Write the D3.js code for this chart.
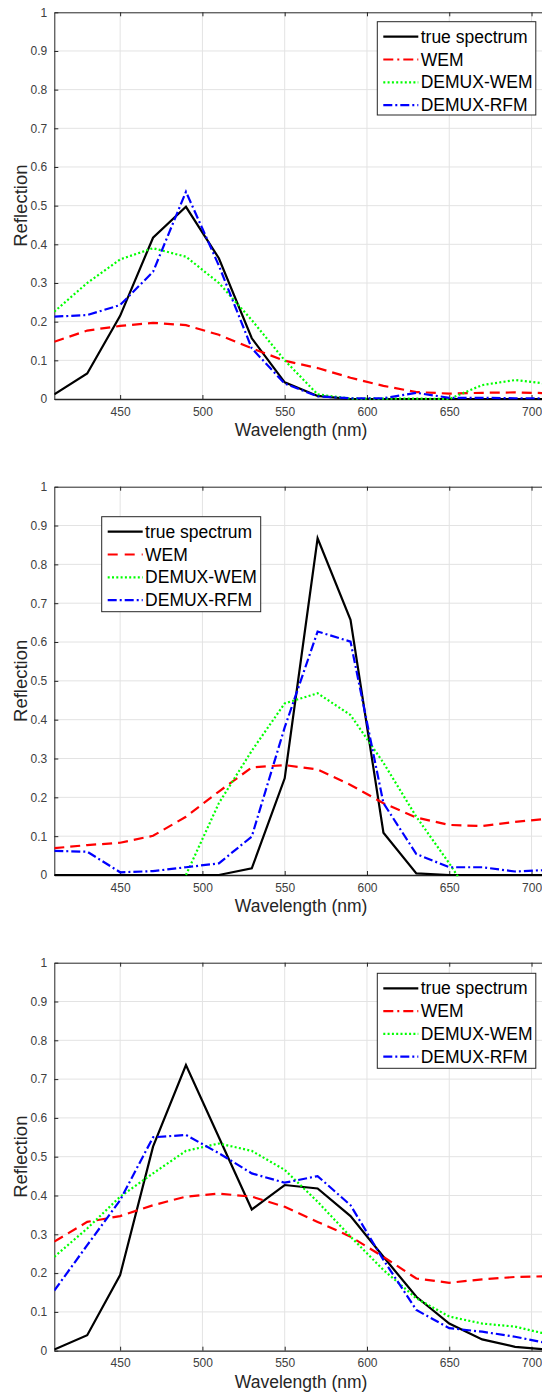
<!DOCTYPE html>
<html>
<head>
<meta charset="utf-8">
<script src="https://cdn.jsdelivr.net/npm/d3@7"></script>
<style>
  body { margin: 0; background: #fff; }
  svg { display: block; font-family: "Liberation Sans", Arial, sans-serif; }
</style>
</head>
<body>
<div id="chart"></div>
<script>
// Wavelength samples (nm)
const wavelengths = [410, 430, 450, 470, 490, 510, 530, 550, 570, 590, 610, 630, 650, 670, 690, 710];
const xTicks = [450, 500, 550, 600, 650, 700];
const yTicks = [0, 0.1, 0.2, 0.3, 0.4, 0.5, 0.6, 0.7, 0.8, 0.9, 1];
const seriesNames = ['true spectrum', 'WEM', 'DEMUX-WEM', 'DEMUX-RFM'];

// Panel 1
const true1 = [0.012, 0.066, 0.215, 0.417, 0.497, 0.364, 0.157, 0.043, 0.008, 0, 0, 0, 0, 0, 0, 0];
const wem1 = [0.148, 0.177, 0.189, 0.197, 0.191, 0.166, 0.131, 0.099, 0.08, 0.055, 0.034, 0.018, 0.014, 0.016, 0.017, 0.015];
const demuxWem1 = [0.226, 0.30, 0.361, 0.39, 0.368, 0.30, 0.204, 0.10, 0.012, 0.001, 0.001, 0.001, 0, 0.036, 0.049, 0.039];
const demuxRfm1 = [0.213, 0.217, 0.243, 0.329, 0.536, 0.345, 0.131, 0.04, 0.007, 0.002, 0.002, 0.016, 0.003, 0.003, 0.002, 0.002];

// Panel 2
const true2 = [0, 0, 0, 0, 0, 0, 0.017, 0.249, 0.867, 0.657, 0.109, 0.004, 0, 0, 0, 0];
const wem2 = [0.069, 0.077, 0.083, 0.101, 0.15, 0.215, 0.277, 0.283, 0.272, 0.232, 0.185, 0.148, 0.129, 0.126, 0.137, 0.145];
const demuxWem2 = [null, null, null, null, 0, 0.185, 0.32, 0.442, 0.468, 0.412, 0.289, 0.15, 0.03, -0.1, null, null];
const demuxRfm2 = [0.062, 0.06, 0.007, 0.01, 0.02, 0.03, 0.099, 0.38, 0.627, 0.601, 0.185, 0.054, 0.02, 0.02, 0.009, 0.013];

// Panel 3
const true3 = [0.003, 0.04, 0.195, 0.526, 0.736, 0.55, 0.364, 0.427, 0.418, 0.347, 0.242, 0.139, 0.07, 0.029, 0.01, 0.003];
const wem3 = [0.281, 0.332, 0.347, 0.375, 0.397, 0.405, 0.397, 0.371, 0.332, 0.294, 0.242, 0.186, 0.175, 0.184, 0.19, 0.192];
const demuxWem3 = [0.242, 0.315, 0.397, 0.457, 0.515, 0.534, 0.515, 0.466, 0.384, 0.294, 0.208, 0.135, 0.088, 0.07, 0.062, 0.042];
const demuxRfm3 = [0.155, 0.272, 0.388, 0.55, 0.556, 0.509, 0.457, 0.433, 0.45, 0.375, 0.234, 0.105, 0.058, 0.049, 0.036, 0.019];

const panels = [
    { top: 12.3, bottom: 399, series: [true1, wem1, demuxWem1, demuxRfm1], legend: { x: 377.3, y: 9.4, w: 158.5, h: 93.3, first: 24.4 }, wemLegendDash: '10,4,2,4' },
    { top: 486.7, bottom: 875, series: [true2, wem2, demuxWem2, demuxRfm2], legend: { x: 101.7, y: 30, w: 159, h: 95, first: 45 }, wemLegendDash: '10,7' },
    { top: 962.7, bottom: 1350.7, series: [true3, wem3, demuxWem3, demuxRfm3], legend: { x: 377.3, y: 10.6, w: 158.5, h: 95, first: 25.6 }, wemLegendDash: '10,4,2,4' }
];

const styles = [
    { color: '#000000', dash: null },
    { color: '#ff0000', dash: '10,6' },
    { color: '#00ff00', dash: '2,2.3' },
    { color: '#0000ff', dash: '9,3,2,3' }
];

const width = 542, height = 1393;
const left = 54.3, right = 548;
const axisColor = '#262626';

const svg = d3.select('#chart')
    .append('svg')
    .attr('width', width)
    .attr('height', height);

svg.append('rect').attr('width', width).attr('height', height).attr('fill', '#fff');

const xScale = d3.scaleLinear().domain([410, 710]).range([left, right]);

panels.forEach((p, pi) => {
    const yScale = d3.scaleLinear().domain([0, 1]).range([p.bottom, p.top]);
    const g = svg.append('g');

    // Grid
    g.selectAll('.xgrid')
        .data(xTicks)
        .enter()
        .append('line')
        .attr('x1', d => xScale(d)).attr('x2', d => xScale(d))
        .attr('y1', p.top).attr('y2', p.bottom)
        .attr('stroke', '#e3e3e3').attr('stroke-width', 1);

    g.selectAll('.ygrid')
        .data(yTicks.slice(1, -1))
        .enter()
        .append('line')
        .attr('x1', left).attr('x2', right)
        .attr('y1', d => yScale(d)).attr('y2', d => yScale(d))
        .attr('stroke', '#e3e3e3').attr('stroke-width', 1);

    // Axes (inward ticks, box)
    const xAxis = d3.axisBottom(xScale).tickValues(xTicks).tickSizeInner(-4).tickSizeOuter(0).tickPadding(8);
    const xAxisG = g.append('g')
        .attr('transform', `translate(0,${p.bottom})`)
        .call(xAxis);
    xAxisG.select('.domain').attr('stroke', axisColor).attr('stroke-width', 1.3);
    xAxisG.selectAll('line').attr('stroke', axisColor);
    xAxisG.selectAll('text').attr('fill', '#404040').style('font-size', '12px').style('font-family', '"Liberation Sans", Arial, sans-serif');

    const xTop = g.append('g')
        .attr('transform', `translate(0,${p.top})`)
        .call(d3.axisTop(xScale).tickValues(xTicks).tickSizeInner(-4).tickSizeOuter(0).tickFormat(''));
    xTop.select('.domain').attr('stroke', axisColor);
    xTop.selectAll('line').attr('stroke', axisColor);

    const yAxis = d3.axisLeft(yScale).tickValues(yTicks).tickSizeInner(-4).tickSizeOuter(0).tickPadding(7)
        .tickFormat(d => d === 0 || d === 1 ? String(d) : d3.format('.1f')(d));
    const yAxisG = g.append('g')
        .attr('transform', `translate(${left},0)`)
        .call(yAxis);
    yAxisG.select('.domain').attr('stroke', axisColor);
    yAxisG.selectAll('line').attr('stroke', axisColor);
    yAxisG.selectAll('text').attr('fill', '#404040').style('font-size', '12px').style('font-family', '"Liberation Sans", Arial, sans-serif');

    const yRight = g.append('g')
        .attr('transform', `translate(${right},0)`)
        .call(d3.axisRight(yScale).tickValues(yTicks).tickSizeInner(-4).tickSizeOuter(0).tickFormat(''));
    yRight.select('.domain').attr('stroke', axisColor);
    yRight.selectAll('line').attr('stroke', axisColor);

    // Clip for series lines
    const clipId = 'clip' + pi;
    svg.append('clipPath').attr('id', clipId)
        .append('rect')
        .attr('x', left).attr('y', p.top)
        .attr('width', right - left).attr('height', p.bottom - p.top + 1.5);

    // Series lines
    const line = d3.line()
        .defined(d => d[1] !== null)
        .x(d => xScale(d[0]))
        .y(d => yScale(d[1]));

    p.series.forEach((vals, si) => {
        g.append('path')
            .datum(wavelengths.map((w, i) => [w, vals[i]]))
            .attr('clip-path', `url(#${clipId})`)
            .attr('fill', 'none')
            .attr('stroke', styles[si].color)
            .attr('stroke-width', 2.2)
            .attr('stroke-dasharray', styles[si].dash)
            .attr('d', line);
    });

    // Axis labels
    g.append('text')
        .attr('x', (left + right) / 2)
        .attr('y', p.bottom + 37)
        .attr('text-anchor', 'middle')
        .attr('fill', axisColor)
        .style('font-size', '17.5px')
        .text('Wavelength (nm)');

    g.append('text')
        .attr('transform', `translate(27,${(p.top + p.bottom) / 2}) rotate(-90)`)
        .attr('text-anchor', 'middle')
        .attr('fill', axisColor)
        .style('font-size', '18.5px')
        .text('Reflection');

    // Legend
    const lg = g.append('g')
        .attr('transform', `translate(${p.legend.x},${p.top + p.legend.y})`);
    lg.append('rect')
        .attr('width', p.legend.w)
        .attr('height', p.legend.h)
        .attr('fill', '#fff')
        .attr('stroke', axisColor)
        .attr('stroke-width', 1);

    seriesNames.forEach((name, i) => {
        const cy = p.legend.first - p.legend.y + i * 22.8;
        const dash = i === 1 ? p.wemLegendDash : styles[i].dash;
        lg.append('line')
            .attr('x1', 6).attr('x2', 41)
            .attr('y1', cy).attr('y2', cy)
            .attr('stroke', styles[i].color)
            .attr('stroke-width', 2.2)
            .attr('stroke-dasharray', dash);
        lg.append('text')
            .attr('x', 43.4)
            .attr('y', cy)
            .attr('dy', '0.35em')
            .attr('fill', '#000')
            .style('font-size', '17.5px')
            .text(name);
    });
});
</script>
</body>
</html>
